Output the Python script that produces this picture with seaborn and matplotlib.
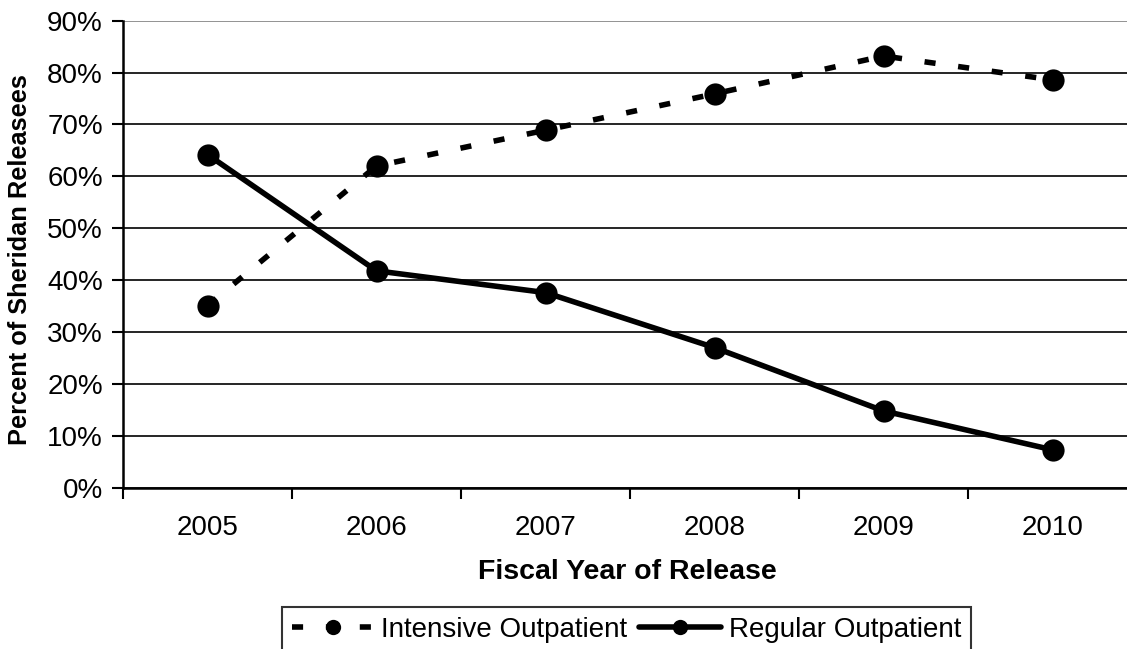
import pandas as pd
import matplotlib
matplotlib.use("Agg")
import matplotlib.pyplot as plt
import seaborn as sns
from matplotlib.ticker import PercentFormatter, FixedLocator

# Data
years = ["2005", "2006", "2007", "2008", "2009", "2010"]
intensive = [0.351, 0.620, 0.689, 0.759, 0.832, 0.786]
regular = [0.642, 0.418, 0.376, 0.270, 0.148, 0.073]
series_names = ["Intensive Outpatient", "Regular Outpatient"]

df = pd.DataFrame({
    "year": years * 2,
    "share": intensive + regular,
    "program": [series_names[0]] * len(years) + [series_names[1]] * len(years),
})

sns.set_theme(style="white")
plt.rcParams["font.family"] = ["Liberation Sans", "DejaVu Sans"]
plt.rcParams["text.color"] = "black"
plt.rcParams["axes.labelcolor"] = "black"

fig = plt.figure(figsize=(11.27, 6.49), dpi=100)
W, H = 1127, 649
left, right, top, bottom = 123, 1137, 20.7, 487.7
ax = fig.add_axes([left / W, 1 - bottom / H, (right - left) / W, (bottom - top) / H])

lw = 4.0
dash = (2.0, 4.1)
sns.lineplot(
    data=df, x="year", y="share", hue="program", style="program",
    palette={series_names[0]: "black", series_names[1]: "black"},
    dashes={series_names[0]: dash, series_names[1]: ""},
    markers={series_names[0]: "o", series_names[1]: "o"},
    markersize=16, markeredgewidth=0, linewidth=lw, ax=ax, legend=False,
    sort=False,
)

ax.set_xlim(-0.5, 5.5)
ax.set_ylim(0, 0.9)
ax.set_yticks([i / 10 for i in range(10)])
ax.yaxis.set_major_formatter(PercentFormatter(1.0, decimals=0))
ax.set_xticks(range(len(years)))
ax.set_xticklabels(years)
ax.xaxis.set_minor_locator(FixedLocator([i + 0.5 for i in range(-1, len(years))]))
ax.tick_params(axis="x", which="major", length=0, labelsize=20, pad=20, labelcolor="black")
ax.tick_params(axis="x", which="minor", length=8, width=1.5, direction="out", bottom=True, color="black")
ax.tick_params(axis="y", length=8, width=1.5, direction="out", left=True, labelsize=20, pad=6.5,
               color="black", labelcolor="black")

ax.yaxis.grid(True, color="black", linewidth=1.2)
ax.get_ygridlines()[-1].set_color("#808080")
ax.set_axisbelow(True)
for s in ["top", "right"]:
    ax.spines[s].set_visible(False)
for s in ["left", "bottom"]:
    ax.spines[s].set_color("black")
    ax.spines[s].set_linewidth(1.8)

ax.set_xlabel("Fiscal Year of Release", fontsize=20.5, fontweight="bold")
ax.set_ylabel("Percent of Sheridan Releasees", fontsize=18.3, fontweight="bold")
ax.xaxis.set_label_coords((627 - left) / (right - left), (bottom - 559) / (bottom - top))
ax.yaxis.set_label_coords((32 - left) / (right - left), (bottom - 260) / (bottom - top))

handles = [
    plt.Line2D([], [], color="black", linewidth=lw, dashes=dash, marker="o", markersize=11, markeredgewidth=0),
    plt.Line2D([], [], color="black", linewidth=lw, marker="o", markersize=11, markeredgewidth=0),
]
leg = fig.legend(
    handles, series_names, ncol=2, loc="upper left",
    bbox_to_anchor=(281.7 / W, 1 - 606.7 / H), fontsize=20, frameon=True, fancybox=False,
    handlelength=2.95, handletextpad=0.28, columnspacing=0.42, borderpad=0.36,
    borderaxespad=0,
)
leg.get_frame().set_edgecolor("black")
leg.get_frame().set_linewidth(1.5)

fig.savefig("out.png", dpi=100)
